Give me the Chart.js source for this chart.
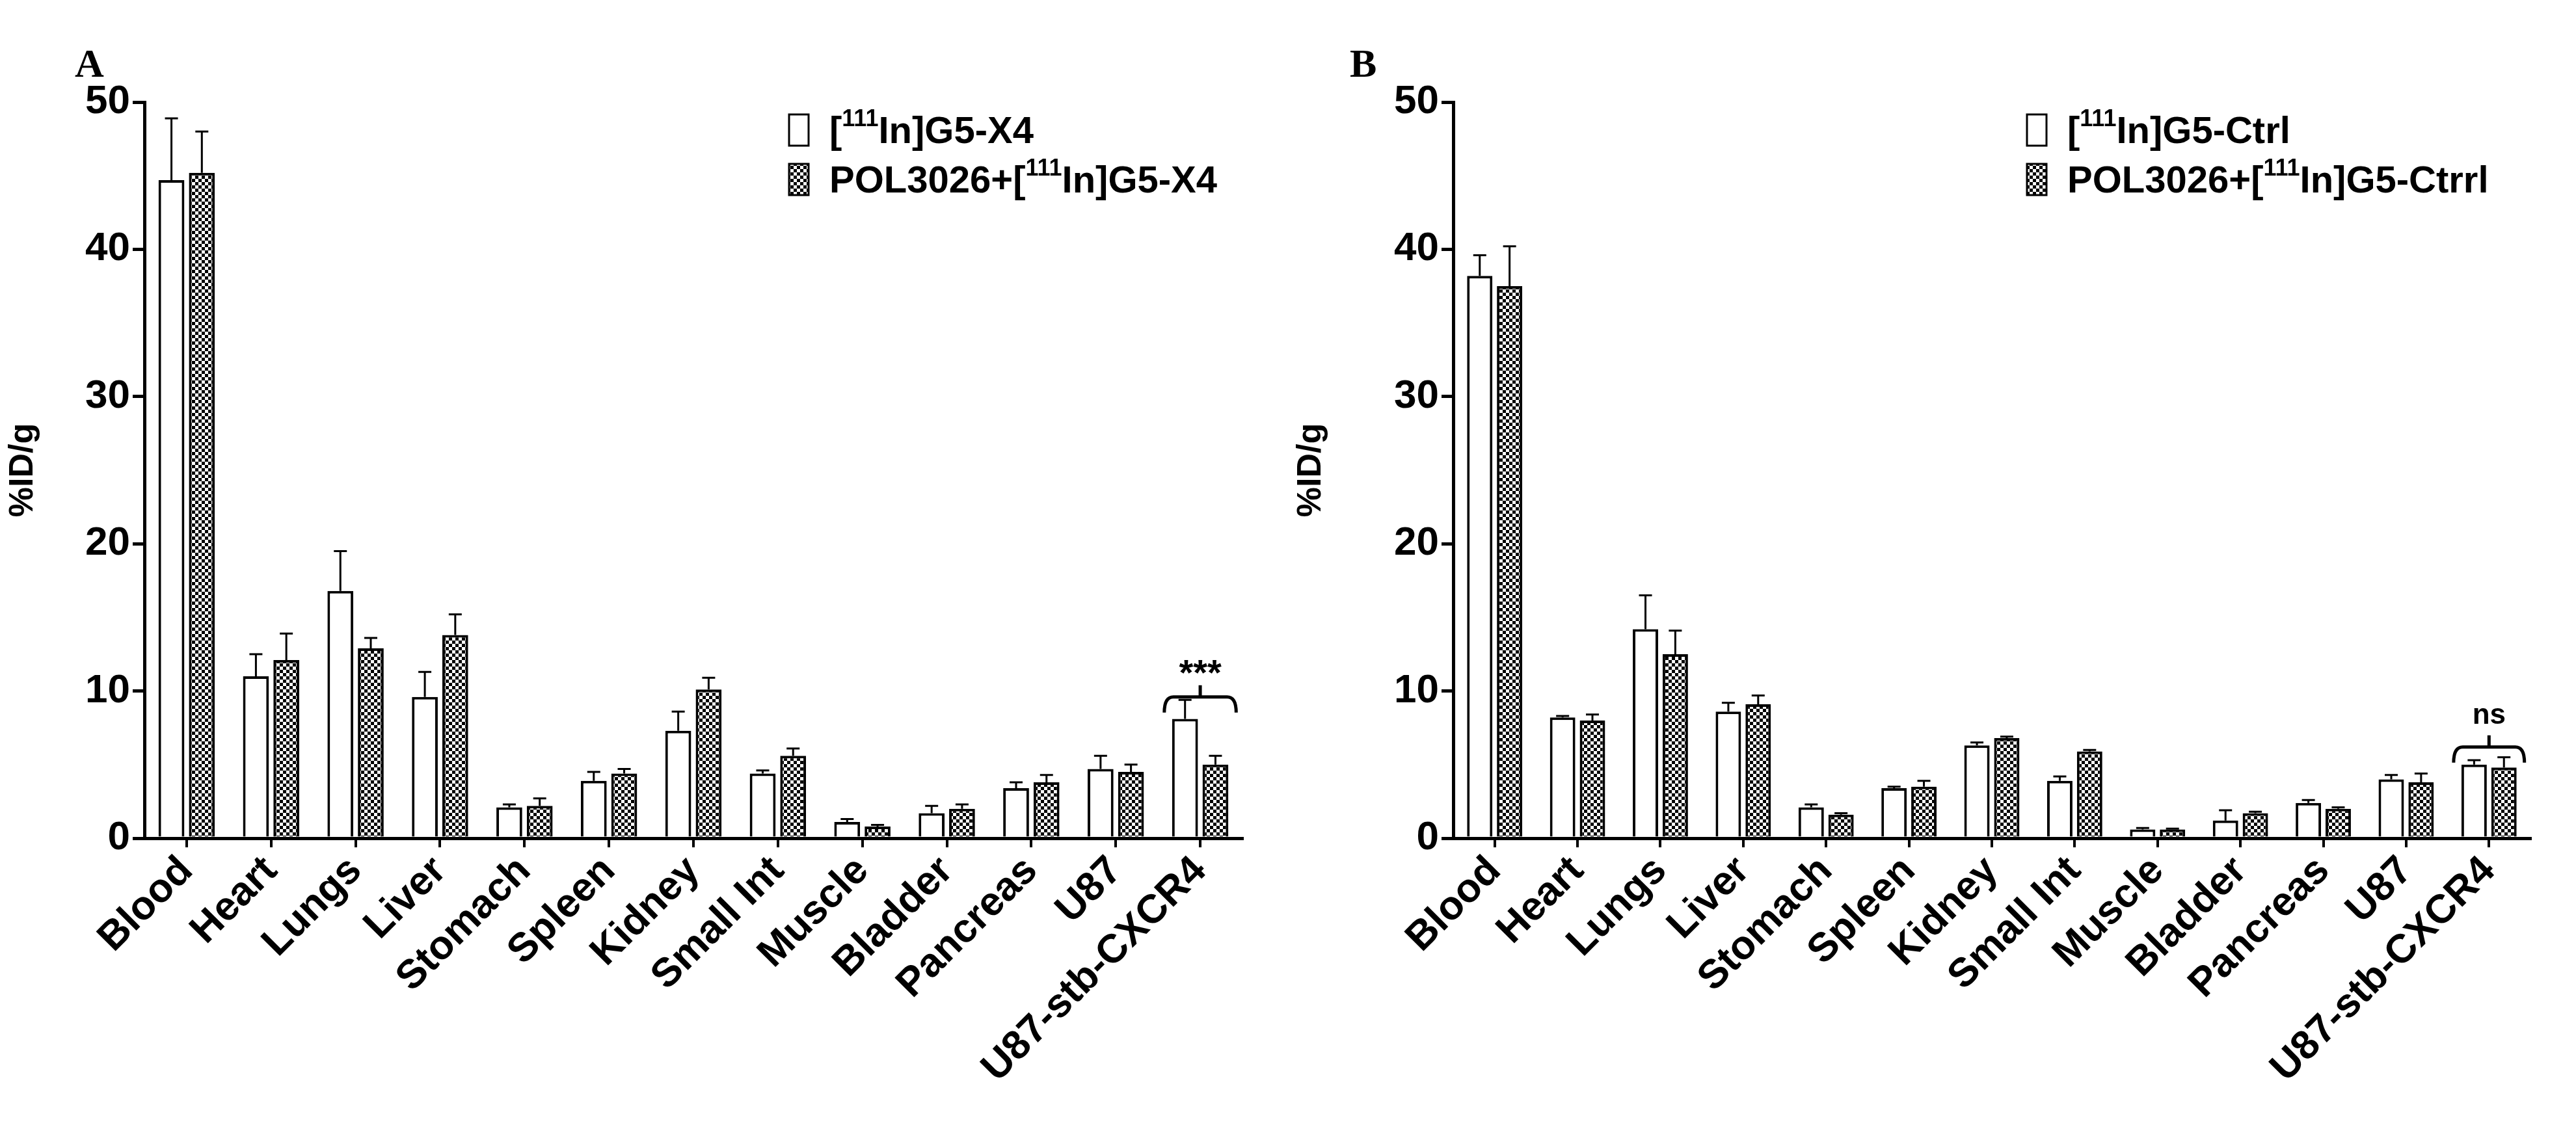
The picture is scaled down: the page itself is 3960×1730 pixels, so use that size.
<!DOCTYPE html>
<html><head><meta charset="utf-8">
<script src="https://cdn.jsdelivr.net/npm/chart.js@4"></script>
<style>body{margin:0;background:#fff;width:3960px;height:1730px;display:flex}
.p{position:relative;width:1980px;height:1730px}</style></head>
<body><div class="p"><canvas id="a"></canvas></div><div class="p"><canvas id="b"></canvas></div>
<script>
const categories=["Blood","Heart","Lungs","Liver","Stomach","Spleen","Kidney","Small Int","Muscle","Bladder","Pancreas","U87","U87-stb-CXCR4"];
const yTicks=[0,10,20,30,40,50];
const aOpen=[44.7,11.0,16.8,9.6,2.1,3.9,7.3,4.4,1.1,1.7,3.4,4.7,8.1];
const aOpenErr=[4.2,1.5,2.7,1.7,0.2,0.6,1.3,0.2,0.2,0.5,0.4,0.9,1.3];
const aBlock=[45.2,12.1,12.9,13.8,2.2,4.4,10.1,5.6,0.8,2.0,3.8,4.5,5.0];
const aBlockErr=[2.8,1.8,0.7,1.4,0.5,0.3,0.8,0.5,0.1,0.3,0.5,0.5,0.6];
const bOpen=[38.2,8.2,14.2,8.6,2.1,3.4,6.3,3.9,0.6,1.2,2.4,4.0,5.0];
const bOpenErr=[1.4,0.1,2.3,0.6,0.2,0.1,0.2,0.3,0.1,0.7,0.2,0.3,0.3];
const bBlock=[37.5,8.0,12.5,9.1,1.6,3.5,6.8,5.9,0.6,1.7,2.0,3.8,4.8];
const bBlockErr=[2.7,0.4,1.6,0.6,0.1,0.4,0.1,0.1,0.05,0.1,0.1,0.6,0.7];
const legendA=[["[","111","In]G5-X4"],["POL3026+[","111","In]G5-X4"]];
const legendB=[["[","111","In]G5-Ctrl"],["POL3026+[","111","In]G5-Ctrrl"]];

function checker(){const c=document.createElement('canvas');c.width=c.height=10;const x=c.getContext('2d');
x.fillStyle='#fff';x.fillRect(0,0,10,10);x.fillStyle='#000';x.fillRect(0,0,5,5);x.fillRect(5,5,5,5);
return x.createPattern(c,'repeat');}
const F='"Liberation Sans", Arial, sans-serif';

function make(id,letter,s1,e1,s2,e2,legend,sig,sigVal){
 const pat=checker();
 const errs=[e1,e2];
 const plug={id:'x',afterDatasetsDraw(ch){
  const ctx=ch.ctx,y=ch.scales.y;
  ctx.save();ctx.strokeStyle='#000';ctx.lineWidth=3;
  ch.data.datasets.forEach((ds,di)=>{ch.getDatasetMeta(di).data.forEach((bar,i)=>{
   const top=y.getPixelForValue(ds.data[i]+errs[di][i]);
   ctx.beginPath();ctx.moveTo(bar.x,bar.y);ctx.lineTo(bar.x,top);ctx.moveTo(bar.x-10,top);ctx.lineTo(bar.x+10,top);ctx.stroke();});});
  const n=categories.length-1;
  const b0=ch.getDatasetMeta(0).data[n],b1=ch.getDatasetMeta(1).data[n];
  const yb=y.getPixelForValue(sigVal),x0=b0.x-b0.width/2-12,x1=b1.x+b1.width/2+12,xm=(x0+x1)/2;
  ctx.lineWidth=5;ctx.beginPath();ctx.moveTo(x0,yb+24);ctx.quadraticCurveTo(x0,yb,x0+14,yb);ctx.lineTo(x1-14,yb);ctx.quadraticCurveTo(x1,yb,x1,yb+24);
  ctx.moveTo(xm,yb);ctx.lineTo(xm,yb-18);ctx.stroke();
  ctx.fillStyle='#000';ctx.textAlign='center';ctx.textBaseline='bottom';ctx.font=(sig==='ns'?'bold 44px ':'bold 56px ')+F;
  ctx.fillText(sig,xm,yb-(sig==='ns'?26:6));
  ctx.font='bold 62px "Liberation Serif", serif';ctx.textAlign='left';ctx.textBaseline='alphabetic';ctx.fillText(letter,letter==='A'?115:95,118);
  const lx=letter==='A'?1213:1136;
  legend.forEach((l,k)=>{const cy=200+k*76;
   ctx.fillStyle=k?pat:'#fff';ctx.fillRect(lx,cy-24,30,48);ctx.lineWidth=3;ctx.strokeRect(lx,cy-24,30,48);
   ctx.fillStyle='#000';ctx.textBaseline='middle';let tx=lx+62;
   ctx.font='bold 58px '+F;ctx.fillText(l[0],tx,cy+4);tx+=ctx.measureText(l[0]).width;
   ctx.font='bold 36px '+F;ctx.fillText(l[1],tx,cy-16);tx+=ctx.measureText(l[1]).width;
   ctx.font='bold 58px '+F;ctx.fillText(l[2],tx,cy+4);});
  ctx.restore();}};
 new Chart(document.getElementById(id),{type:'bar',
  data:{labels:categories,datasets:[
   {data:s1,backgroundColor:'#fff',borderColor:'#000',borderWidth:4,categoryPercentage:0.72,barPercentage:0.85},
   {data:s2,backgroundColor:pat,borderColor:'#000',borderWidth:4,categoryPercentage:0.72,barPercentage:0.85}]},
  options:{responsive:false,animation:false,devicePixelRatio:1,
   layout:{padding:{top:157,right:70,left:0,bottom:0}},
   plugins:{legend:{display:false},tooltip:{enabled:false}},
   scales:{
    y:{min:0,max:50,afterBuildTicks(ax){ax.ticks=yTicks.map(v=>({value:v}));},
     afterFit(ax){ax.width=letter==='A'?222:254;},
     border:{color:'#000',width:5},grid:{display:true,drawOnChartArea:false,drawTicks:true,tickLength:18,color:'#000',lineWidth:5},
     ticks:{color:'#000',font:{family:F,size:62,weight:'bold'},padding:4},
     title:{display:true,text:'%ID/g',color:'#000',font:{family:F,size:52,weight:'bold'},padding:{bottom:0}}},
    x:{afterFit(ax){ax.height=1730-1289;},
     border:{color:'#000',width:5},grid:{display:true,drawOnChartArea:false,tickLength:14,color:'#000',lineWidth:4,offset:false},
     ticks:{color:'#000',font:{family:F,size:62,weight:'bold'},minRotation:45,maxRotation:45,padding:0}}}},
  plugins:[plug]});
}
for(const id of ['a','b']){const c=document.getElementById(id);c.width=1980;c.height=1730;}
make('a','A',aOpen,aOpenErr,aBlock,aBlockErr,legendA,'***',9.6);
make('b','B',bOpen,bOpenErr,bBlock,bBlockErr,legendB,'ns',6.2);
</script></body></html>
